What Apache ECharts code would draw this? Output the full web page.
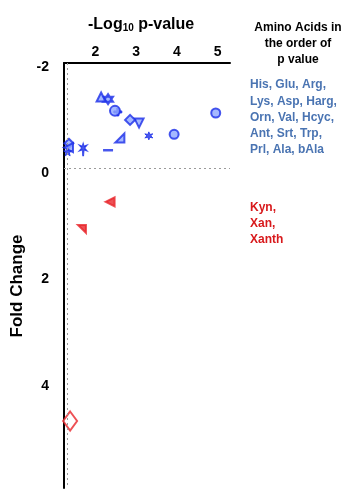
<!DOCTYPE html>
<html>
<head>
<meta charset="utf-8">
<script src="https://cdn.jsdelivr.net/npm/echarts@6/dist/echarts.min.js"></script>
<style>
html, body { margin: 0; padding: 0; background: #fff; }
#chartExample { width: 353px; height: 494px; }
</style>
</head>
<body>
<div id="chartExample"></div>
<script>
// 数据：按p值排序的氨基酸
var blueNames = ['His', 'Glu', 'Arg', 'Lys', 'Asp', 'Harg', 'Orn', 'Val', 'Hcyc', 'Ant', 'Srt', 'Trp', 'Prl', 'Ala', 'bAla'];
var blueLogP = [4.95, 3.93, 3.31, 3.07, 2.85, 2.60, 2.55, 2.48, 2.31, 2.31, 2.14, 1.70, 1.35, 1.34, 1.32];
var blueFold = [-1.13, -0.73, -0.70, -0.94, -1.00, -0.66, -1.15, -1.17, -1.39, -0.43, -1.43, -0.45, -0.56, -0.48, -0.40];
var redNames = ['Kyn', 'Xan', 'Xanth'];
var redLogP = [2.36, 1.67, 1.38];
var redFold = [0.54, 1.05, 4.66];
var xTicks = [2, 3, 4, 5];
var yTicks = [-2, 0, 2, 4];
var pCut = 1.3;   // -log10(0.05)
var foldZero = -0.1;

var BLUE = '#1a2de8', BLUE_FILL = '#8ea6ff';
var RED = '#e8262b';

function starPath(n, r1, r2) {
    var s = 'path://';
    for (var i = 0; i < n * 2; i++) {
        var r = i % 2 ? r2 : r1;
        var a = Math.PI * i / n - Math.PI / 2;
        s += (i ? 'L' : 'M') + (r * Math.cos(a)).toFixed(2) + ',' + (r * Math.sin(a)).toFixed(2);
    }
    return s + 'Z';
}
var HEX = 'path://M0,-10L8.66,5L-8.66,5Z M0,10L-8.66,-5L8.66,-5Z';
var PLUS = 'path://M-1.5,-6H1.5V-1.5H6V1.5H1.5V6H-1.5V1.5H-6V-1.5H-1.5Z';
var RTRI = 'path://M10,0L10,10L0,10Z';
var FLAG = 'path://M0,0L10,0L10,10Z';
var STEM = 'path://M0,-10L2,-4L8,-6L3,-1L8,4L2,2L1,12L-1,12L-2,2L-8,4L-3,-1L-8,-6L-2,-4Z';

// 各点的标记样式
var blueMarks = [
    { symbol: 'circle', symbolSize: 9 },
    { symbol: 'circle', symbolSize: 9 },
    { symbol: starPath(6, 6, 2.5), symbolSize: 8, fill: true, bw: 1 },
    { symbol: 'triangle', symbolSize: 9, symbolRotate: 180 },
    { symbol: 'diamond', symbolSize: 10 },
    { symbol: RTRI, symbolSize: 9 },
    { symbol: PLUS, symbolSize: 8, fill: true, bw: 1 },
    { symbol: 'circle', symbolSize: 10 },
    { symbol: HEX, symbolSize: 10 },
    { symbol: 'rect', symbolSize: [10, 2.5], fill: true, bw: 0 },
    { symbol: 'triangle', symbolSize: 9 },
    { symbol: STEM, symbolSize: [8, 13], fill: true, bw: 1 },
    { symbol: 'diamond', symbolSize: 9 },
    { symbol: 'triangle', symbolSize: 9, symbolRotate: 90 },
    { symbol: starPath(5, 6, 2.5), symbolSize: 8, fill: true, bw: 1 }
];
var redMarks = [
    { symbol: 'triangle', symbolSize: 9, symbolRotate: 90, fill: true },
    { symbol: FLAG, symbolSize: 8, fill: true },
    { symbol: 'diamond', symbolSize: [14, 19], open: true }
];

function buildData(xs, ys, names, marks, color, fillColor) {
    return xs.map(function (x, i) {
        var m = marks[i];
        return {
            name: names[i],
            value: [x, ys[i]],
            symbol: m.symbol,
            symbolSize: m.symbolSize,
            symbolRotate: m.symbolRotate || 0,
            itemStyle: {
                color: m.fill ? color : (m.open ? '#fff' : fillColor),
                borderColor: color,
                borderWidth: m.bw != null ? m.bw : 2
            }
        };
    });
}

var myChart = echarts.init(document.getElementById('chartExample'));
var fontFam = 'Liberation Sans, Arial, sans-serif';

var option = {
    backgroundColor: '#fff',
    animation: false,
    grid: { left: 64, top: 63, right: 123, bottom: 6 },
    xAxis: {
        type: 'value',
        position: 'top',
        min: 1.23,
        max: 5.30,
        axisLine: { onZero: false, lineStyle: { color: '#000', width: 2 } },
        axisTick: { show: false },
        splitLine: { show: false },
        axisLabel: {
            customValues: xTicks,
            margin: 4,
            color: '#000',
            fontSize: 14,
            fontFamily: fontFam,
            fontWeight: 'bold'
        }
    },
    yAxis: {
        type: 'value',
        inverse: true,
        min: -2.07,
        max: 5.92,
        axisLine: { onZero: false, lineStyle: { color: '#000', width: 2 } },
        axisTick: { show: false },
        splitLine: { show: false },
        axisLabel: {
            customValues: yTicks,
            margin: 15,
            color: '#000',
            fontSize: 14,
            fontFamily: fontFam,
            fontWeight: 'bold'
        }
    },
    series: [{
        name: 'decreased',
        type: 'scatter',
        z: 3,
        data: buildData(blueLogP, blueFold, blueNames, blueMarks, BLUE, BLUE_FILL),
        markLine: {
            silent: true,
            symbol: 'none',
            label: { show: false },
            lineStyle: { type: [2, 3], color: '#9a9a9a', width: 1 },
            data: [{ xAxis: pCut }, { yAxis: foldZero }]
        }
    }, {
        name: 'increased',
        type: 'scatter',
        z: 3,
        data: buildData(redLogP, redFold, redNames, redMarks, RED, RED)
    }],
    graphic: [{
        type: 'text',
        left: 88,
        top: 17,
        style: {
            text: '{a|-Log}{b|10}{a| p-value}',
            rich: {
                a: { fontSize: 16, fontWeight: 'bold', fontFamily: fontFam, fill: '#000', lineHeight: 20, verticalAlign: 'bottom' },
                b: { fontSize: 10, fontWeight: 'bold', fontFamily: fontFam, fill: '#000', lineHeight: 14, verticalAlign: 'bottom', padding: [6, 0, 0, 0] }
            }
        }
    }, {
        type: 'text',
        x: 17,
        y: 286,
        rotation: Math.PI / 2,
        style: {
            text: 'Fold Change',
            fontSize: 17,
            fontWeight: 'bold',
            fontFamily: fontFam,
            fill: '#000',
            align: 'center',
            verticalAlign: 'middle'
        }
    }, {
        type: 'text',
        x: 298,
        y: 20,
        style: {
            text: 'Amino Acids in\nthe order of\np value',
            fontSize: 12,
            lineHeight: 16,
            fontWeight: 'bold',
            fontFamily: fontFam,
            fill: '#000',
            align: 'center'
        }
    }, {
        type: 'text',
        x: 250,
        y: 77,
        style: {
            text: 'His, Glu, Arg,\nLys, Asp, Harg,\nOrn, Val, Hcyc,\nAnt, Srt, Trp,\nPrl, Ala, bAla',
            fontSize: 12,
            lineHeight: 16.2,
            fontWeight: 'bold',
            fontFamily: fontFam,
            fill: '#4a74b2'
        }
    }, {
        type: 'text',
        x: 250,
        y: 200,
        style: {
            text: 'Kyn,\nXan,\nXanth',
            fontSize: 12,
            lineHeight: 15.7,
            fontWeight: 'bold',
            fontFamily: fontFam,
            fill: '#d8191c'
        }
    }]
};
myChart.setOption(option);
</script>
</body>
</html>
